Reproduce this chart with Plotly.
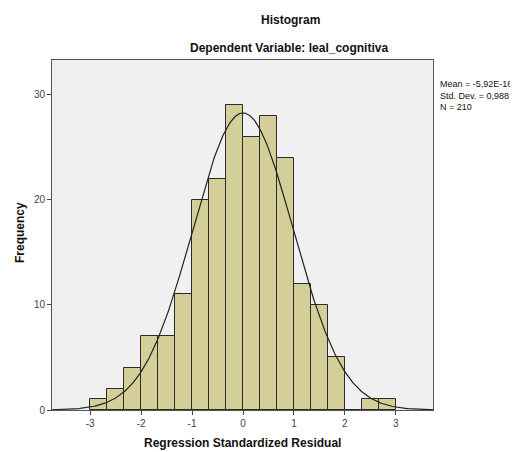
import numpy as np
import plotly.graph_objects as go

bin_width = 1/3
bin_left_edges = [-3 + i/3 for i in range(18)]
counts = [1, 2, 4, 7, 7, 11, 20, 22, 29, 26, 28, 24, 12, 10, 5, 0, 1, 1]
mean_val = -5.92e-16
sd_val = 0.988
n_val = 210
x_ticks = [-3, -2, -1, 0, 1, 2, 3]
x_tick_labels = ["-3", "-2", "-1", "0", "1", "2", "3"]
y_ticks = [0, 10, 20, 30]

centers = [e + bin_width/2 for e in bin_left_edges]

xs = np.linspace(-3.75, 3.75, 400)
ys = n_val * bin_width * np.exp(-0.5*((xs-mean_val)/sd_val)**2) / (sd_val*np.sqrt(2*np.pi))

# page body has an 8px margin; lay out in screen pixels and compensate
OFF = 8
W, H = 518 - OFF, 452 - OFF
L, R, T, B = 52 - OFF, 85, 60 - OFF, 42
pw, ph = W - L - R, H - T - B

def px(x):
    return (x - OFF - L) / pw

def py(y):
    return 1 - (y - OFF - T) / ph

fig = go.Figure()
fig.add_trace(go.Bar(x=centers, y=counts, width=bin_width,
                     marker=dict(color="#d4cf98", line=dict(color="#2a2a2a", width=1)),
                     hoverinfo="skip"))
fig.add_trace(go.Scatter(x=xs, y=ys, mode="lines", line=dict(color="#222222", width=1.2),
                         hoverinfo="skip"))

font = "Liberation Sans, Arial, sans-serif"
fig.update_layout(
    width=W, height=H,
    margin=dict(l=L, r=R, t=T, b=B, autoexpand=False),
    paper_bgcolor="white", plot_bgcolor="#f0f0f0",
    showlegend=False, bargap=0,
    font=dict(family=font, size=10, color="#333"),
    xaxis=dict(range=[-3.75, 3.73], tickvals=x_ticks, ticktext=x_tick_labels,
               ticks="outside", ticklen=4,
               tickcolor="#444", showgrid=False, zeroline=False, showline=True,
               linecolor="#555", linewidth=1, mirror=True,
               tickfont=dict(size=10, color="#444")),
    yaxis=dict(range=[0, 33.3], tickvals=y_ticks, ticks="outside", ticklen=4,
               tickcolor="#444", showgrid=False, zeroline=False, showline=True,
               linecolor="#555", linewidth=1, mirror=True,
               tickfont=dict(size=10, color="#444")),
)
ann = [
    ("<b>Histogram</b>", 290, 20, 0, "center", "middle", 12),
    ("<b>Dependent Variable: leal_cognitiva</b>", 289, 48, 0, "center", "middle", 12),
    ("<b>Frequency</b>", 20, 233, -90, "center", "middle", 12),
    ("<b>Regression Standardized Residual</b>", 242, 443, 0, "center", "middle", 12),
    (f"Mean = -5,92E-16<br>Std. Dev. = {str(sd_val).replace('.', ',')}<br>N = {n_val}",
     438, 77, 0, "left", "top", 9),
]
for text, x, y, ang, xa, ya, sz in ann:
    fig.add_annotation(text=text, x=px(x), y=py(y), xref="paper", yref="paper",
                       showarrow=False, textangle=ang, xanchor=xa, yanchor=ya,
                       align="left", font=dict(size=sz, color="#111", family=font))
fig.write_html("out.html")
